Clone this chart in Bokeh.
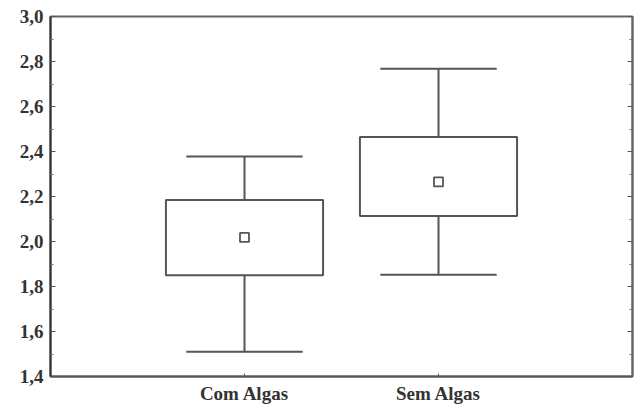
from bokeh.plotting import figure
from bokeh.models import Range1d, LinearAxis, FixedTicker, CustomJSTickFormatter, ColumnDataSource
from bokeh.embed import file_html
from bokeh.resources import INLINE

categories = ["Com Algas", "Sem Algas"]
whisker_low = [1.51, 1.852]
box_low = [1.85, 2.113]
means = [2.018, 2.265]
box_high = [2.185, 2.465]
whisker_high = [2.378, 2.768]
y_ticks = [1.4, 1.6, 1.8, 2.0, 2.2, 2.4, 2.6, 2.8, 3.0]
y_minor = [1.5, 1.7, 1.9, 2.1, 2.3, 2.5, 2.7, 2.9]

xs = [i + 1 for i in range(len(categories))]
box_w = 0.81
cap_w = 0.6
src = ColumnDataSource(dict(
    x=xs, wl=whisker_low, bl=box_low, m=means, bh=box_high, wh=whisker_high,
    left=[x - box_w / 2 for x in xs], right=[x + box_w / 2 for x in xs],
    cl=[x - cap_w / 2 for x in xs], cr=[x + cap_w / 2 for x in xs],
))

p = figure(width=634, height=406, output_backend="svg", toolbar_location=None,
           x_range=Range1d(0, 3), y_range=Range1d(1.4, 3.0),
           min_border_left=50, min_border_right=2, min_border_top=16, min_border_bottom=28)
p.grid.visible = False
p.outline_line_color = "#666666"
p.outline_line_width = 2
p.background_fill_color = "white"
p.border_fill_color = "white"

font = "'Liberation Serif', serif"
fmt = CustomJSTickFormatter(code="return tick.toFixed(1).replace('.', ',');")

# left axis
ya = p.yaxis[0]
ya.ticker = FixedTicker(ticks=y_ticks, minor_ticks=y_minor)
ya.formatter = fmt
ya.major_tick_in = 5
ya.major_tick_out = 0
ya.minor_tick_in = 3
ya.minor_tick_out = 0
ya.axis_line_color = "#333333"
ya.axis_line_width = 2
ya.major_tick_line_color = "#555555"
ya.minor_tick_line_color = "#777777"
ya.major_label_text_font = font
ya.major_label_text_font_style = "bold"
ya.major_label_text_font_size = "19px"
ya.major_label_text_color = "#333333"
ya.major_label_standoff = 7

# right axis
ra = LinearAxis(ticker=FixedTicker(ticks=y_ticks, minor_ticks=y_minor))
ra.major_tick_in = 5
ra.major_tick_out = 0
ra.minor_tick_in = 3
ra.minor_tick_out = 0
ra.axis_line_color = "#666666"
ra.axis_line_width = 2
ra.major_tick_line_color = "#555555"
ra.minor_tick_line_color = "#777777"
ra.major_label_text_font_size = "0px"
ra.major_label_text_color = None
ra.major_label_standoff = 0
p.add_layout(ra, "right")

# bottom axis
xa = p.xaxis[0]
xa.ticker = FixedTicker(ticks=xs, minor_ticks=[])
xa.major_label_overrides = {x: c for x, c in zip(xs, categories)}
xa.major_tick_in = 3
xa.major_tick_out = 0
xa.minor_tick_in = 0
xa.minor_tick_out = 0
xa.axis_line_color = "#555555"
xa.axis_line_width = 2
xa.major_tick_line_color = "#555555"
xa.major_label_text_font = font
xa.major_label_text_font_style = "bold"
xa.major_label_text_font_size = "19px"
xa.major_label_text_color = "#333333"
xa.major_label_standoff = 6

lc = "#555555"
# whiskers
p.segment(x0="x", y0="wl", x1="x", y1="bl", source=src, line_color=lc, line_width=2)
p.segment(x0="x", y0="bh", x1="x", y1="wh", source=src, line_color=lc, line_width=2)
p.segment(x0="cl", y0="wl", x1="cr", y1="wl", source=src, line_color=lc, line_width=2)
p.segment(x0="cl", y0="wh", x1="cr", y1="wh", source=src, line_color=lc, line_width=2)
# boxes
p.quad(left="left", right="right", bottom="bl", top="bh", source=src,
       fill_color="white", line_color=lc, line_width=2)
# means
p.scatter(x="x", y="m", source=src, marker="square", size=9,
          fill_color="white", line_color=lc, line_width=1.8)

open("out.html", "w").write(file_html(p, INLINE))
